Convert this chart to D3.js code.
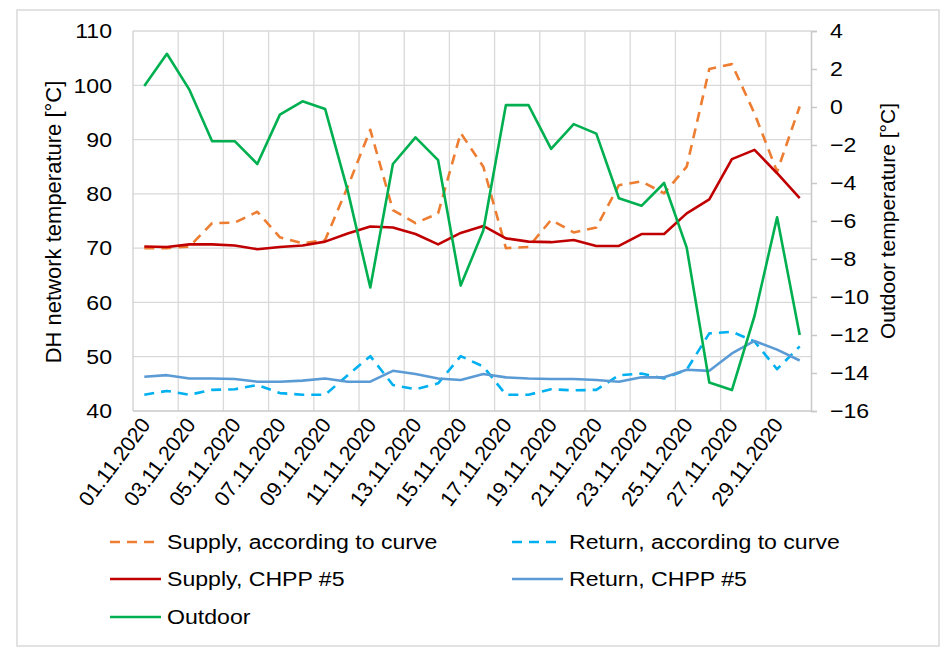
<!DOCTYPE html>
<html lang="en">
<head>
<meta charset="utf-8">
<title>DH network temperatures, November 2020</title>
<script src="https://d3js.org/d3.v7.min.js"></script>
<style>
  body { margin: 0; background: #fff; }
  svg text { font-family: "Liberation Sans", Arial, sans-serif; fill: #000; }
</style>
</head>
<body>
<svg id="chart" width="944" height="651"></svg>
<script>

// days of November 2020
var dates = ["01.11.2020","02.11.2020","03.11.2020","04.11.2020","05.11.2020","06.11.2020",
  "07.11.2020","08.11.2020","09.11.2020","10.11.2020","11.11.2020","12.11.2020","13.11.2020",
  "14.11.2020","15.11.2020","16.11.2020","17.11.2020","18.11.2020","19.11.2020","20.11.2020",
  "21.11.2020","22.11.2020","23.11.2020","24.11.2020","25.11.2020","26.11.2020","27.11.2020",
  "28.11.2020","29.11.2020","30.11.2020"]

var supplyCurve = [70.0,70.0,70.3,74.6,74.7,76.7,72.0,70.9,71.5,81.3,91.8,77.0,74.6,76.4,91.2,
  85.0,70.0,70.2,75.2,72.9,73.8,81.6,82.3,80.1,85.0,103.0,103.9,94.8,84.1,96.1]
var returnCurve = [43.0,43.7,43.0,43.9,44.0,44.8,43.3,43.0,43.0,46.6,50.1,44.8,44.0,45.1,50.1,
  48.2,43.0,43.0,44.0,43.8,43.9,46.6,46.9,46.0,47.6,54.3,54.6,52.8,47.7,51.9]
var supplyCHPP = [70.3,70.2,70.7,70.7,70.5,69.8,70.2,70.5,71.2,72.7,74.0,73.8,72.6,70.7,72.8,
  74.1,71.8,71.2,71.1,71.5,70.4,70.4,72.6,72.6,76.4,79.0,86.4,88.1,83.8,79.2]
var returnCHPP = [46.3,46.6,46.0,46.0,45.9,45.4,45.4,45.6,46.0,45.4,45.4,47.4,46.8,46.0,45.7,
  46.8,46.2,46.0,45.9,45.9,45.7,45.4,46.2,46.2,47.6,47.4,50.6,52.9,51.3,49.3]
var outdoor = [1.1,2.8,0.9,-1.8,-1.8,-3.0,-0.4,0.3,-0.1,-4.4,-9.5,-3.0,-1.6,-2.8,-9.4,
  -6.5,0.1,0.1,-2.2,-0.9,-1.4,-4.8,-5.2,-4.0,-7.4,-14.5,-14.9,-11.0,-5.8,-12.0]

var leftTicks = [40,50,60,70,80,90,100,110]
var rightTicks = [4,2,0,-2,-4,-6,-8,-10,-12,-14,-16]
var dateLabels = dates.filter(function (d, i) { return i % 2 === 0 })

var series = [
  { name: "Supply, according to curve", values: supplyCurve, color: "#ED7D31", dash: "10,7", axis: "left" },
  { name: "Return, according to curve", values: returnCurve, color: "#00B0F0", dash: "10,7", axis: "left" },
  { name: "Supply, CHPP #5", values: supplyCHPP, color: "#C00000", dash: null, axis: "left" },
  { name: "Return, CHPP #5", values: returnCHPP, color: "#5B9BD5", dash: null, axis: "left" },
  { name: "Outdoor", values: outdoor, color: "#00B050", dash: null, axis: "right" }
]

var svg = d3.select('#chart')
var plot = { left: 133, right: 811, top: 31, bottom: 411 }
var FONT = 21, SX = 1.1   // source text is a bit wider than plain Arial

// outer frame
svg.append('rect')
  .attr('x', 17).attr('y', 10).attr('width', 922).attr('height', 636)
  .attr('fill', '#fff').attr('stroke', '#d9d9d9').attr('stroke-width', 1.5)

var x = d3.scaleBand().domain(dates).range([plot.left, plot.right]).padding(0)
var yL = d3.scaleLinear().domain([40, 110]).range([plot.bottom, plot.top])
var yR = d3.scaleLinear().domain([-16, 4]).range([plot.bottom, plot.top])
function cx(d) { return x(d) + x.bandwidth() / 2 }

// horizontal grid
svg.append('g').attr('class', 'grid')
  .selectAll('line').data(leftTicks.slice(1))
  .enter().append('line')
    .attr('x1', plot.left).attr('x2', plot.right)
    .attr('y1', function (d) { return yL(d) }).attr('y2', function (d) { return yL(d) })
    .attr('stroke', '#d9d9d9').attr('stroke-width', 1.3)

// vertical grid every second day
svg.append('g').attr('class', 'vgrid')
  .selectAll('line').data(dates.filter(function (d, i) { return i % 2 === 0 && i > 0 }))
  .enter().append('line')
    .attr('x1', function (d) { return x(d) }).attr('x2', function (d) { return x(d) })
    .attr('y1', plot.top).attr('y2', plot.bottom)
    .attr('stroke', '#d9d9d9').attr('stroke-width', 1.3)

// axis lines
svg.append('line').attr('x1', plot.left).attr('x2', plot.left)
  .attr('y1', plot.top).attr('y2', plot.bottom).attr('stroke', '#d0d0d0').attr('stroke-width', 1.3)
svg.append('line').attr('x1', plot.left).attr('x2', plot.right)
  .attr('y1', plot.bottom).attr('y2', plot.bottom).attr('stroke', '#c8c8c8').attr('stroke-width', 1.5)

// left axis labels
var leftAxis = svg.append('g')
  .attr('transform', 'translate(' + plot.left + ',0)')
  .call(d3.axisLeft(yL).tickValues(leftTicks).tickSize(0).tickPadding(21))
leftAxis.select('.domain').remove()
leftAxis.selectAll('text').attr('font-size', FONT).attr('font-family', null)
  .each(function () {
    var t = d3.select(this)
    t.attr('transform', 'translate(' + (+t.attr('x')) + ',0) scale(' + SX + ',1)').attr('x', 0)
  })

// right axis
var rightAxis = svg.append('g')
  .attr('transform', 'translate(' + plot.right + ',0)')
  .call(d3.axisRight(yR).tickValues(rightTicks).tickSize(6).tickPadding(13))
rightAxis.select('.domain').attr('stroke', '#c8c8c8').attr('stroke-width', 1.5)
rightAxis.selectAll('.tick line').attr('stroke', '#c8c8c8').attr('stroke-width', 1.5)
rightAxis.selectAll('text').attr('font-size', FONT).attr('font-family', null)
  .each(function () {
    var t = d3.select(this)
    t.attr('transform', 'translate(' + (+t.attr('x')) + ',0) scale(' + SX + ',1)').attr('x', 0)
  })

// date labels, rotated
svg.append('g').attr('class', 'xlabels')
  .selectAll('text').data(dateLabels)
  .enter().append('text')
    .attr('transform', function (d) { return 'translate(' + (cx(d) + 7) + ',' + (plot.bottom + 14) + ') rotate(-53)' })
    .attr('text-anchor', 'end')
    .attr('font-size', FONT)
    .text(function (d) { return d })

// axis titles
svg.append('text')
  .attr('transform', 'translate(61,222) rotate(-90)')
  .attr('text-anchor', 'middle').attr('font-size', 22)
  .text('DH network temperature [°C]')
svg.append('text')
  .attr('transform', 'translate(895,221) rotate(-90)')
  .attr('text-anchor', 'middle').attr('font-size', FONT)
  .text('Outdoor temperature [°C]')

// series
var lineLeft = d3.line().x(function (d, i) { return cx(dates[i]) }).y(function (d) { return yL(d) })
var lineRight = d3.line().x(function (d, i) { return cx(dates[i]) }).y(function (d) { return yR(d) })

svg.append('g').attr('class', 'series')
  .selectAll('path').data(series)
  .enter().append('path')
    .attr('d', function (s) { return s.axis === 'left' ? lineLeft(s.values) : lineRight(s.values) })
    .attr('fill', 'none')
    .attr('stroke', function (s) { return s.color })
    .attr('stroke-width', 2.6)
    .attr('stroke-dasharray', function (s) { return s.dash })
    .attr('stroke-linejoin', 'round')

// legend
var legendPos = [
  { lx: 110, ly: 542 }, { lx: 512, ly: 542 },
  { lx: 110, ly: 579 }, { lx: 512, ly: 579 },
  { lx: 110, ly: 617 }
]
var legend = svg.append('g').attr('class', 'legend')
  .selectAll('g').data(series)
  .enter().append('g')
    .attr('transform', function (s, i) { return 'translate(' + legendPos[i].lx + ',' + legendPos[i].ly + ')' })
legend.append('line')
  .attr('x1', 0).attr('x2', 51).attr('y1', 0).attr('y2', 0)
  .attr('stroke', function (s) { return s.color })
  .attr('stroke-width', 2.6)
  .attr('stroke-dasharray', function (s) { return s.dash })
legend.append('text')
  .attr('transform', 'translate(57,0) scale(' + SX + ',1)')
  .attr('dy', '0.35em')
  .attr('font-size', FONT)
  .text(function (s) { return s.name })
</script>
</body>
</html>
